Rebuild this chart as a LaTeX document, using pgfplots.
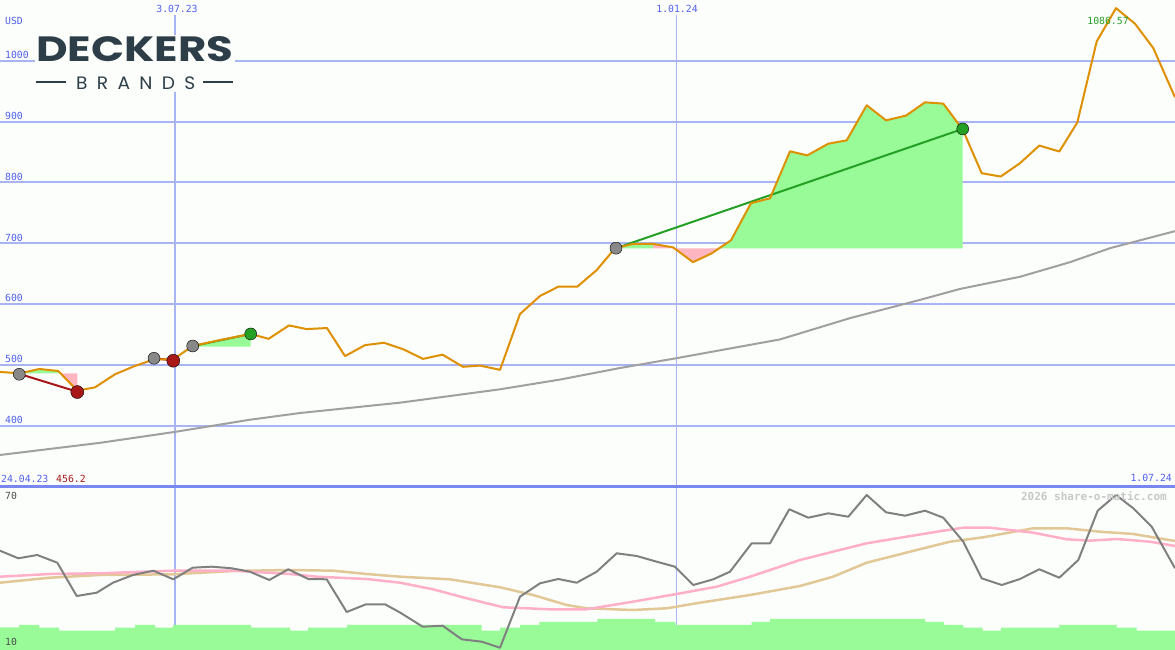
\documentclass[border=0pt]{standalone}
\usepackage{pgfplots}
\pgfplotsset{compat=1.18}
\usepackage{fontspec}
\newfontfamily\monofont{DejaVu Sans Mono}
\newfontfamily\logofont{Poppins}
\definecolor{bgc}{RGB}{252,254,252}
\definecolor{gridc}{RGB}{168,180,244}
\definecolor{borderc}{RGB}{120,136,240}
\definecolor{lblc}{RGB}{80,96,240}
\definecolor{pricec}{RGB}{222,144,0}
\definecolor{mac}{RGB}{160,160,160}
\definecolor{redc}{RGB}{168,24,24}
\definecolor{greenc}{RGB}{36,160,36}
\definecolor{fillg}{RGB}{152,251,152}
\definecolor{fillp}{RGB}{255,182,193}
\definecolor{logoc}{RGB}{45,62,72}
\definecolor{rsic}{RGB}{128,128,128}
\definecolor{pinkl}{RGB}{255,176,200}
\definecolor{tanl}{RGB}{226,200,150}
\definecolor{markg}{RGB}{136,136,136}
\pgfplotsset{panel/.style={scale only axis, width=1175pt, xmin=0, xmax=1175, hide axis, clip=true, anchor=south west}}
\begin{document}
\begin{tikzpicture}
\fill[bgc] (0pt,0pt) rectangle (1175pt,650pt);
% ---------------- upper panel ----------------
\begin{axis}[panel, at={(0pt,163pt)}, height=487pt, ymin=299.4, ymax=1100]
\draw[gridc, line width=2pt] (axis cs:0,400) -- (axis cs:1175,400);
\draw[gridc, line width=2pt] (axis cs:0,500) -- (axis cs:1175,500);
\draw[gridc, line width=2pt] (axis cs:0,600) -- (axis cs:1175,600);
\draw[gridc, line width=2pt] (axis cs:0,700) -- (axis cs:1175,700);
\draw[gridc, line width=2pt] (axis cs:0,800) -- (axis cs:1175,800);
\draw[gridc, line width=2pt] (axis cs:0,900) -- (axis cs:1175,900);
\draw[gridc, line width=2pt] (axis cs:0,1000) -- (axis cs:1175,1000);
\draw[gridc, line width=2pt] (axis cs:175,299.4) -- (axis cs:175,1075.3);
\draw[gridc, line width=1pt] (axis cs:676,299.4) -- (axis cs:676,1075.3);
% trade fills
\addplot[fill=fillg, draw=none] coordinates {(20,486.3) (39.3,493.4) (58.3,490.1) (60.5,486.3)} -- cycle;
\addplot[fill=fillp, draw=none] coordinates {(60.5,486.3) (77.3,457.8) (77.3,486.3)} -- cycle;
\addplot[fill=fillp, draw=none] coordinates {(154,511) (173.3,511) (173.3,509.3) (154,509.3)} -- cycle;
\addplot[fill=fillg, draw=none] coordinates {(192.7,531.2) (220,541) (250.7,551) (250.7,530) (192.7,530)} -- cycle;
\addplot[fill=fillg, draw=none] coordinates {(615,691.8) (633,699) (653,699) (653,691.5)} -- cycle;
\addplot[fill=fillp, draw=none] coordinates {(653,699) (673,693.4) (693,669) (711.7,683.5) (718.7,691.5) (653,691.5)} -- cycle;
\addplot[fill=fillg, draw=none] coordinates {(718.7,691.5) (731,705) (751,766) (770,774) (790,851.2) (807.3,844.6) (828.3,863.8) (846.7,869.3) (866.7,926.9) (886,902.2) (906,909.9) (925,931.8) (943.3,929.6) (962.7,887) (962.7,691.5)} -- cycle;
% moving average
\addplot[mac, line width=2pt] coordinates {(0,352) (50,362) (100,372) (175,390) (250,410) (300,421) (400,438) (500,460) (560,476) (620,495) (676,511) (780,542) (850,577) (920,607) (960,625) (1020,645) (1070,669) (1110,692) (1175,720)};
% trade lines
\addplot[redc, line width=2pt] coordinates {(20,485) (77.3,456)};
\addplot[redc, line width=2pt] coordinates {(154,511) (173.3,507.5)};
\addplot[greenc, line width=2pt] coordinates {(192.7,531) (250.7,551)};
\addplot[greenc, line width=2pt] coordinates {(616,692) (962.7,888)};
% price
\addplot[pricec, line width=2pt, line join=round] coordinates {(0,488.5) (20,486.3) (39.3,493.4) (58.3,490.1) (77.3,457.8) (95,463.2) (115,484.7) (133.3,497.3) (154,509.3) (173.3,509.3) (192.7,531.2) (220,541) (250.7,551) (268.6,543) (289,565) (306.5,559) (327,560.7) (345,514.6) (365,532.6) (384,536.5) (403,526) (423,510) (442.5,517) (463,497) (480,499) (500,492) (520,583.8) (540,613.4) (558.3,628.7) (577.3,628.7) (596.7,656) (615,691.8) (633,699) (653,699) (673,693.4) (693,669) (711.7,683.5) (731,705) (751,766) (770,774) (790,851.2) (807.3,844.6) (828.3,863.8) (846.7,869.3) (866.7,926.9) (886,902.2) (906,909.9) (925,931.8) (943.3,929.6) (962.7,887) (981.7,815.2) (1000.7,809.8) (1020,831.7) (1039.3,860.7) (1059.3,850.9) (1077.3,898.6) (1096.7,1031.8) (1116,1086.6) (1135,1061) (1153.3,1020.8) (1175,940)};
% markers
\addplot[only marks, mark=*, mark size=6pt, mark options={fill=markg, draw=none}] coordinates {(19.3,484.7) (154,511) (192.7,531.2) (616,692)};
\addplot[only marks, mark=*, mark size=6.5pt, mark options={fill=redc, draw=none}] coordinates {(77.3,455.5) (173.3,507)};
\addplot[only marks, mark=*, mark size=6pt, mark options={fill=greenc, draw=none}] coordinates {(250.7,551) (962.7,888)};
\end{axis}
% ---------------- lower panel ----------------
\begin{axis}[panel, at={(0pt,0pt)}, height=163pt, ymin=0, ymax=163]
\draw[gridc, line width=2pt] (axis cs:175,0) -- (axis cs:175,163);
\draw[gridc, line width=1pt] (axis cs:676,0) -- (axis cs:676,163);
\addplot[const plot, fill=fillg, draw=none] coordinates {(0,22.7) (19,25) (39,22.3) (59,19.3) (115,22.3) (135,25) (155,22.3) (173,25) (251,22.3) (290,19.3) (308,22.3) (347,25) (481.7,19.3) (500,22.3) (520,25) (539.3,28) (597.3,31) (655,28) (675.3,25) (751.7,28) (770,31) (925,28) (944,25) (963.3,22.3) (982.7,19.3) (1001,22.3) (1059.3,25) (1116.7,22.3) (1136.7,19.3) (1175,19.3)} \closedcycle;
\addplot[tanl, line width=2.5pt] coordinates {(0,67.3) (50,72.3) (100,75) (173,75.7) (233,79) (290,80) (333,79.3) (366.7,76) (400,73.3) (450,70.7) (500,62.7) (533,55) (566.7,45) (586.7,41.7) (633,40) (666.7,41.7) (700,47.3) (750,55) (800,64) (833,73.3) (866.7,87.3) (916.7,100) (950,108.3) (983.3,112.7) (1033.3,121.7) (1066.7,121.7) (1100,118.3) (1133.3,116) (1175,109)};
\addplot[pinkl, line width=2.5pt] coordinates {(0,73.3) (50,76) (100,76.7) (173,79.3) (233,79.3) (267,77.3) (290,76) (316.7,73.3) (366.7,71) (400,67.3) (433,60.7) (466.7,51.7) (503.3,42.7) (550,40.7) (586.7,40.7) (633,48.3) (675,55.7) (716.7,63.3) (750,73.3) (800,90) (833,98.3) (866.7,106.7) (916.7,115) (943.3,119.3) (963.3,122.3) (990,122.3) (1033.3,117.3) (1066.7,110.7) (1090,109.3) (1116.7,111) (1150,108.3) (1175,104)};
\addplot[rsic, line width=2pt, line join=round] coordinates {(0,99.3) (18.3,91.7) (37.3,95) (57.3,87.3) (76.7,54) (96.7,57.3) (113,67.3) (133,75) (153.3,79.3) (173.3,70.7) (192.7,82.3) (211.7,83.3) (231.7,81.7) (250,78.3) (269.3,70) (288.3,80.7) (308.3,71) (326.7,70.7) (346.7,38) (366,45.7) (385,45.7) (400,37.5) (422.7,23.3) (442.7,24.3) (461.7,10.7) (481.7,8.3) (500,2.3) (520,53.3) (540,66.7) (558.3,71) (576.7,67.3) (596.7,78.3) (616.7,96.7) (636.7,94) (656.7,88.3) (675,83.3) (693.3,65) (713.3,70.7) (730,78.3) (751.7,106.7) (770,106.7) (789.3,140.7) (808.3,132.3) (828.3,136.7) (848.3,133.3) (866.7,155) (886,137.7) (905,134.3) (925,139.3) (943.3,132.3) (963.3,108.3) (981.7,71.7) (1001.7,65) (1020,71) (1039.3,80.7) (1059.3,72.3) (1078.3,90) (1097.7,139.3) (1116,155) (1133.3,141.7) (1151.7,123.3) (1175,81.7)};
\end{axis}
% border between panels
\draw[borderc, line width=3pt] (0pt,163pt) -- (1175pt,163pt);
% logo
\fill[bgc] (35pt,558pt) rectangle (235pt,615pt);
\node[anchor=south west, inner sep=0pt, text=logoc] at (36pt,588.3pt) {\resizebox{197pt}{25pt}{\logofont\bfseries DECKERS}};
\node[anchor=south west, inner sep=0pt, text=logoc] at (76pt,560pt) {\resizebox{119pt}{12.7pt}{\logofont\fontsize{18}{20}\selectfont B\kern9pt R\kern9pt A\kern9pt N\kern9pt D\kern9pt S}};
\draw[logoc, line width=2pt] (36pt,568.3pt) -- (66pt,568.3pt);
\draw[logoc, line width=2pt] (203pt,568.3pt) -- (233pt,568.3pt);
% labels
\begin{scope}[every node/.style={inner sep=0pt, font=\monofont\fontsize{9.8}{10}\selectfont}]
\node[anchor=west, text=lblc] at (5pt,629pt) {USD};
\node[anchor=west, text=lblc] at (5pt,595.5pt) {1000};
\node[anchor=west, text=lblc] at (5pt,534pt) {900};
\node[anchor=west, text=lblc] at (5pt,473pt) {800};
\node[anchor=west, text=lblc] at (5pt,412pt) {700};
\node[anchor=west, text=lblc] at (5pt,352pt) {600};
\node[anchor=west, text=lblc] at (5pt,291pt) {500};
\node[anchor=west, text=lblc] at (5pt,230pt) {400};
\node[anchor=center, text=lblc] at (177pt,641pt) {3.07.23};
\node[anchor=center, text=lblc] at (677pt,641pt) {1.01.24};
\node[anchor=center, text=greenc] at (1108pt,628.7pt) {1086.57};
\node[anchor=west, text=lblc] at (1pt,171.3pt) {24.04.23};
\node[anchor=west, text=redc] at (56pt,171.3pt) {456.2};
\node[anchor=east, text=lblc] at (1172pt,171.7pt) {1.07.24};
\node[anchor=west, text=black!70] at (5pt,154.3pt) {70};
\node[anchor=west, text=black!70] at (5pt,7.7pt) {10};
\node[anchor=east, text=black!22, font=\monofont\bfseries\fontsize{11}{12}\selectfont] at (1167pt,154.3pt) {2026 share-o-matic.com};
\end{scope}
\pgfresetboundingbox
\useasboundingbox (0pt,0pt) rectangle (1175pt,650pt);
\end{tikzpicture}
\end{document}
